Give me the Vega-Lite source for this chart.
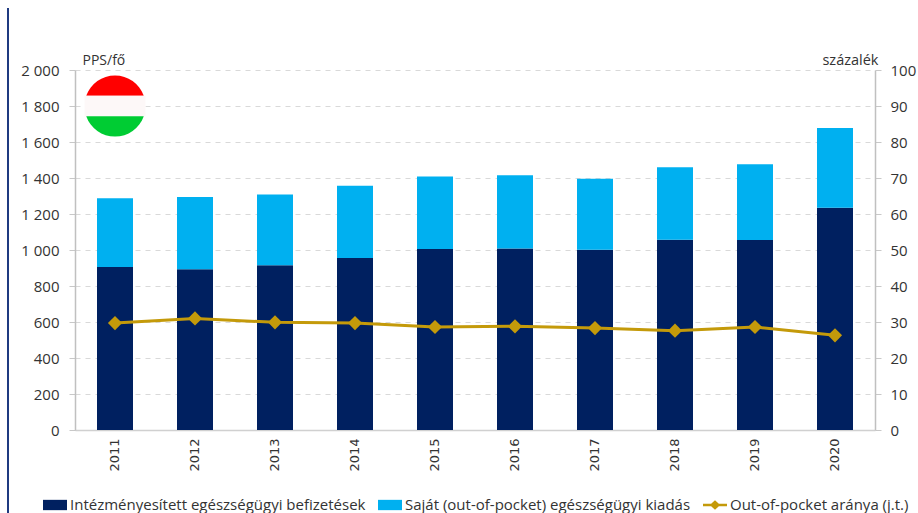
{"$schema":"https://vega.github.io/schema/vega-lite/v6.json","width":800,"height":360,"autosize":"none","padding":{"left":75,"top":70,"right":43,"bottom":83},"background":"white","config":{"view":{"stroke":null},"font":"Open Sans"},"datasets":{"bars":[{"year":"2011","series":"Intézményesített egészségügyi befizetések","value":905},{"year":"2012","series":"Intézményesített egészségügyi befizetések","value":893},{"year":"2013","series":"Intézményesített egészségügyi befizetések","value":915},{"year":"2014","series":"Intézményesített egészségügyi befizetések","value":955},{"year":"2015","series":"Intézményesített egészségügyi befizetések","value":1005},{"year":"2016","series":"Intézményesített egészségügyi befizetések","value":1008},{"year":"2017","series":"Intézményesített egészségügyi befizetések","value":1002},{"year":"2018","series":"Intézményesített egészségügyi befizetések","value":1057},{"year":"2019","series":"Intézményesített egészségügyi befizetések","value":1055},{"year":"2020","series":"Intézményesített egészségügyi befizetések","value":1235},{"year":"2011","series":"Saját (out-of-pocket) egészségügyi kiadás","value":383},{"year":"2012","series":"Saját (out-of-pocket) egészségügyi kiadás","value":402},{"year":"2013","series":"Saját (out-of-pocket) egészségügyi kiadás","value":393},{"year":"2014","series":"Saját (out-of-pocket) egészségügyi kiadás","value":402},{"year":"2015","series":"Saját (out-of-pocket) egészségügyi kiadás","value":403},{"year":"2016","series":"Saját (out-of-pocket) egészségügyi kiadás","value":407},{"year":"2017","series":"Saját (out-of-pocket) egészségügyi kiadás","value":394},{"year":"2018","series":"Saját (out-of-pocket) egészségügyi kiadás","value":403},{"year":"2019","series":"Saját (out-of-pocket) egészségügyi kiadás","value":422},{"year":"2020","series":"Saját (out-of-pocket) egészségügyi kiadás","value":443}],"ratio":[{"year":"2011","series":"Out-of-pocket aránya (j.t.)","ratio":29.7},{"year":"2012","series":"Out-of-pocket aránya (j.t.)","ratio":31},{"year":"2013","series":"Out-of-pocket aránya (j.t.)","ratio":29.9},{"year":"2014","series":"Out-of-pocket aránya (j.t.)","ratio":29.7},{"year":"2015","series":"Out-of-pocket aránya (j.t.)","ratio":28.6},{"year":"2016","series":"Out-of-pocket aránya (j.t.)","ratio":28.8},{"year":"2017","series":"Out-of-pocket aránya (j.t.)","ratio":28.3},{"year":"2018","series":"Out-of-pocket aránya (j.t.)","ratio":27.6},{"year":"2019","series":"Out-of-pocket aránya (j.t.)","ratio":28.6},{"year":"2020","series":"Out-of-pocket aránya (j.t.)","ratio":26.3}],"flag":[{"year":"2011","pos":1800}],"frame":[{"year":"2011","from":-461,"to":2344}]},"layer":[{"layer":[{"data":{"name":"bars"},"mark":{"type":"bar"},"encoding":{"x":{"field":"year","type":"nominal","scale":{"paddingInner":0.55,"paddingOuter":0.275},"axis":{"title":null,"labelAngle":270,"labelFont":"DejaVu Sans","labelFontSize":13,"labelColor":"#333333","labelPadding":8,"ticks":false,"domainColor":"#d0d0d0","domainWidth":1.5,"labelBaseline":"middle","labelAlign":"right"}},"y":{"field":"value","type":"quantitative","stack":"zero","scale":{"domain":[0,2000],"nice":false},"axis":{"title":"PPS/fő","titleAngle":0,"titleX":7,"titleY":-3,"titleAlign":"left","titleBaseline":"bottom","titleFontWeight":"normal","titleFontSize":14,"titleColor":"#333333","values":[0,200,400,600,800,1000,1200,1400,1600,1800,2000],"labelOverlap":false,"labelExpr":"replace(format(datum.value,','),',',' ')","labelFontSize":15,"labelColor":"#333333","labelPadding":10,"tickSize":6,"tickColor":"#c8c8c8","domainColor":"#c0c0c0","domainWidth":1.5,"grid":true,"gridColor":"#d9d9d9","gridDash":[5,5],"gridWidth":1.2}},"color":{"field":"series","type":"nominal","sort":null,"scale":{"domain":["Intézményesített egészségügyi befizetések","Saját (out-of-pocket) egészségügyi kiadás","Out-of-pocket aránya (j.t.)"],"range":["#002060","#00b0f0","#c49a0a"]},"legend":{"title":null,"orient":"none","legendX":-32,"legendY":423,"direction":"horizontal","columns":3,"columnPadding":12,"symbolSize":576,"symbolStrokeWidth":0,"labelFontSize":15,"labelColor":"#333333","labelOffset":3,"labelLimit":400,"padding":0}},"order":{"field":"series","sort":"ascending"}}},{"data":{"name":"frame"},"mark":{"type":"rule","color":"#1f3a80","strokeWidth":2,"xOffset":-107,"clip":false},"encoding":{"x":{"field":"year","type":"nominal"},"y":{"field":"from","type":"quantitative","axis":{"title":"PPS/fő","titleAngle":0,"titleX":7,"titleY":-3,"titleAlign":"left","titleBaseline":"bottom","titleFontWeight":"normal","titleFontSize":14,"titleColor":"#333333","values":[0,200,400,600,800,1000,1200,1400,1600,1800,2000],"labelOverlap":false,"labelExpr":"replace(format(datum.value,','),',',' ')","labelFontSize":15,"labelColor":"#333333","labelPadding":10,"tickSize":6,"tickColor":"#c8c8c8","domainColor":"#c0c0c0","domainWidth":1.5,"grid":true,"gridColor":"#d9d9d9","gridDash":[5,5],"gridWidth":1.2}},"y2":{"field":"to"}}},{"data":{"name":"flag"},"mark":{"type":"point","filled":true,"opacity":1,"size":3720,"strokeWidth":0,"color":"#ff0000","shape":"M-0.943,-0.333A1,1,0,0,1,0.943,-0.333Z"},"encoding":{"x":{"field":"year","type":"nominal"},"y":{"field":"pos","type":"quantitative","axis":{"title":"PPS/fő","titleAngle":0,"titleX":7,"titleY":-3,"titleAlign":"left","titleBaseline":"bottom","titleFontWeight":"normal","titleFontSize":14,"titleColor":"#333333","values":[0,200,400,600,800,1000,1200,1400,1600,1800,2000],"labelOverlap":false,"labelExpr":"replace(format(datum.value,','),',',' ')","labelFontSize":15,"labelColor":"#333333","labelPadding":10,"tickSize":6,"tickColor":"#c8c8c8","domainColor":"#c0c0c0","domainWidth":1.5,"grid":true,"gridColor":"#d9d9d9","gridDash":[5,5],"gridWidth":1.2}}}},{"data":{"name":"flag"},"mark":{"type":"point","filled":true,"opacity":1,"size":3720,"strokeWidth":0,"color":"#fdf8f8","shape":"M-1,-0.333H1V0.333H-1Z"},"encoding":{"x":{"field":"year","type":"nominal"},"y":{"field":"pos","type":"quantitative","axis":{"title":"PPS/fő","titleAngle":0,"titleX":7,"titleY":-3,"titleAlign":"left","titleBaseline":"bottom","titleFontWeight":"normal","titleFontSize":14,"titleColor":"#333333","values":[0,200,400,600,800,1000,1200,1400,1600,1800,2000],"labelOverlap":false,"labelExpr":"replace(format(datum.value,','),',',' ')","labelFontSize":15,"labelColor":"#333333","labelPadding":10,"tickSize":6,"tickColor":"#c8c8c8","domainColor":"#c0c0c0","domainWidth":1.5,"grid":true,"gridColor":"#d9d9d9","gridDash":[5,5],"gridWidth":1.2}}}},{"data":{"name":"flag"},"mark":{"type":"point","filled":true,"opacity":1,"size":3720,"strokeWidth":0,"color":"#00cc33","shape":"M-0.943,0.333H0.943A1,1,0,0,1,-0.943,0.333Z"},"encoding":{"x":{"field":"year","type":"nominal"},"y":{"field":"pos","type":"quantitative","axis":{"title":"PPS/fő","titleAngle":0,"titleX":7,"titleY":-3,"titleAlign":"left","titleBaseline":"bottom","titleFontWeight":"normal","titleFontSize":14,"titleColor":"#333333","values":[0,200,400,600,800,1000,1200,1400,1600,1800,2000],"labelOverlap":false,"labelExpr":"replace(format(datum.value,','),',',' ')","labelFontSize":15,"labelColor":"#333333","labelPadding":10,"tickSize":6,"tickColor":"#c8c8c8","domainColor":"#c0c0c0","domainWidth":1.5,"grid":true,"gridColor":"#d9d9d9","gridDash":[5,5],"gridWidth":1.2}}}}]},{"layer":[{"data":{"name":"ratio"},"mark":{"type":"line","strokeWidth":3,"color":"#c49a0a"},"encoding":{"x":{"field":"year","type":"nominal"},"y":{"field":"ratio","type":"quantitative","scale":{"domain":[0,100],"nice":false},"axis":{"orient":"right","title":"százalék","titleAngle":0,"titleX":3,"titleY":-3,"titleAlign":"right","titleBaseline":"bottom","titleFontWeight":"normal","titleFontSize":14.5,"titleColor":"#333333","values":[0,10,20,30,40,50,60,70,80,90,100],"labelOverlap":false,"labelFontSize":15,"labelColor":"#333333","labelPadding":9,"tickSize":6,"tickColor":"#c8c8c8","domainColor":"#c0c0c0","domainWidth":1.5,"grid":false}}}},{"data":{"name":"ratio"},"mark":{"type":"point","filled":true,"opacity":1,"shape":"diamond","size":200,"color":"#c49a0a"},"encoding":{"x":{"field":"year","type":"nominal"},"y":{"field":"ratio","type":"quantitative","axis":{"orient":"right","title":"százalék","titleAngle":0,"titleX":3,"titleY":-3,"titleAlign":"right","titleBaseline":"bottom","titleFontWeight":"normal","titleFontSize":14.5,"titleColor":"#333333","values":[0,10,20,30,40,50,60,70,80,90,100],"labelOverlap":false,"labelFontSize":15,"labelColor":"#333333","labelPadding":9,"tickSize":6,"tickColor":"#c8c8c8","domainColor":"#c0c0c0","domainWidth":1.5,"grid":false}}}},{"data":{"name":"ratio"},"transform":[{"filter":"datum.ratio > 100"}],"mark":{"type":"point","filled":true,"opacity":1},"encoding":{"x":{"field":"year","type":"nominal"},"y":{"field":"ratio","type":"quantitative","axis":{"orient":"right","title":"százalék","titleAngle":0,"titleX":3,"titleY":-3,"titleAlign":"right","titleBaseline":"bottom","titleFontWeight":"normal","titleFontSize":14.5,"titleColor":"#333333","values":[0,10,20,30,40,50,60,70,80,90,100],"labelOverlap":false,"labelFontSize":15,"labelColor":"#333333","labelPadding":9,"tickSize":6,"tickColor":"#c8c8c8","domainColor":"#c0c0c0","domainWidth":1.5,"grid":false}},"color":{"field":"series","type":"nominal","sort":null,"legend":{"title":null,"orient":"none","legendX":-32,"legendY":423,"direction":"horizontal","columns":3,"columnPadding":12,"symbolSize":576,"symbolStrokeWidth":0,"labelFontSize":15,"labelColor":"#333333","labelOffset":3,"labelLimit":400,"padding":0}},"shape":{"field":"series","type":"nominal","sort":null,"scale":{"domain":["Intézményesített egészségügyi befizetések","Saját (out-of-pocket) egészségügyi kiadás","Out-of-pocket aránya (j.t.)"],"range":["M-1,-0.43H1V0.43H-1Z","M-1,-0.43H1V0.43H-1Z","M-1,-0.1H-0.32L0,-0.4L0.32,-0.1H1V0.1H0.32L0,0.4L-0.32,0.1H-1Z"]},"legend":{"title":null,"orient":"none","legendX":-32,"legendY":423,"direction":"horizontal","columns":3,"columnPadding":12,"symbolSize":576,"symbolStrokeWidth":0,"labelFontSize":15,"labelColor":"#333333","labelOffset":3,"labelLimit":400,"padding":0}}}}]}],"resolve":{"scale":{"y":"independent"}}}
